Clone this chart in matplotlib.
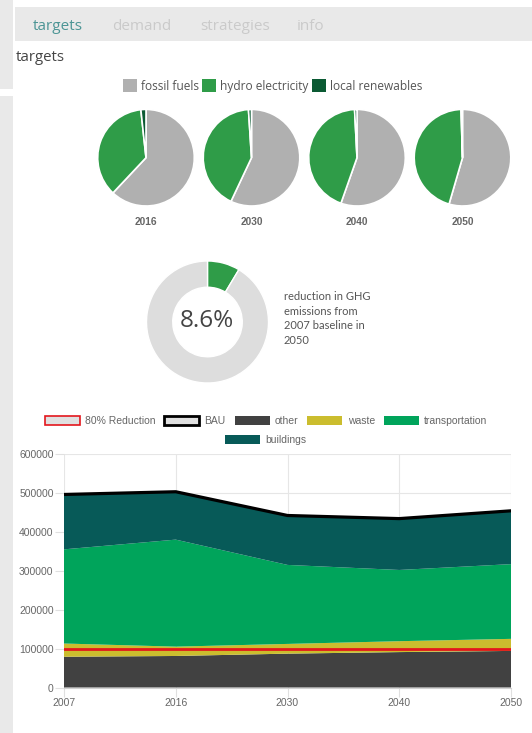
import matplotlib
matplotlib.use("Agg")
import matplotlib.pyplot as plt
from matplotlib.patches import Rectangle, Patch
import numpy as np

# ---------------- data ----------------
tabs = ["targets", "demand", "strategies", "info"]

pie_years = ["2016", "2030", "2040", "2050"]
pie_labels = ["fossil fuels", "hydro electricity", "local renewables"]
fossil = [62.0, 57.0, 55.4, 54.5]
hydro = [36.3, 42.0, 43.8, 45.0]
local = [1.7, 1.0, 0.8, 0.5]

ghg_reduction = 8.6
ghg_text = "reduction in GHG\nemissions from\n2007 baseline in\n2050"

years = ["2007", "2016", "2030", "2040", "2050"]
other = [79000, 81000, 87000, 91000, 94000]
waste = [34000, 24000, 25000, 28000, 31000]
transportation = [242000, 275000, 203000, 183000, 192000]
buildings = [141000, 123000, 127000, 132000, 137000]
bau = [496000, 503000, 442000, 434000, 454000]
reduction80 = [99000, 99000, 99000, 99000, 99000]
y_ticks = [0, 100000, 200000, 300000, 400000, 500000, 600000]

# ---------------- styles ----------------
W, H = 532, 733
UI_FONT = ["Open Sans", "DejaVu Sans"]
TXT_FONT = ["Lato", "DejaVu Sans"]
CH_FONT = ["Liberation Sans", "DejaVu Sans"]
C_FOSSIL = "#b0b0b0"
C_HYDRO = "#2f9c48"
C_LOCAL = "#0b5a33"
C_OTHER = "#414141"
C_WASTE = "#cbbd2e"
C_TRANS = "#00a45b"
C_BUILD = "#075a58"
C_RED = "#e3161d"

fig = plt.figure(figsize=(W / 100, H / 100), dpi=100)
fig.patch.set_facecolor("white")


def fx(x):
    return x / W


def fy(y):
    return 1 - y / H


def add_ax_px(l, t, w, h):
    return fig.add_axes([l / W, 1 - (t + h) / H, w / W, h / H])


# page chrome
fig.add_artist(Rectangle((fx(0), fy(89)), fx(13), 89 / H, transform=fig.transFigure,
                         facecolor="#e9e9e9", edgecolor="none", zorder=0))
fig.add_artist(Rectangle((fx(0), fy(733)), fx(13), (733 - 96) / H, transform=fig.transFigure,
                         facecolor="#e9e9e9", edgecolor="none", zorder=0))
fig.add_artist(Rectangle((fx(15), fy(41)), fx(517), 34 / H, transform=fig.transFigure,
                         facecolor="#e9e9e9", edgecolor="none", zorder=0))

tab_x = [33, 112, 200, 297]
for i, (t, x) in enumerate(zip(tabs, tab_x)):
    fig.text(fx(x), fy(26.5), t, fontsize=11, family=UI_FONT, va="center", ha="left",
             color="#4c9595" if i == 0 else "#cacaca")
fig.text(fx(16), fy(57.5), "targets", fontsize=10.8, family=UI_FONT, va="center", ha="left",
         color="#444444")

# ---------------- pies ----------------
pie_cx = [146, 251.5, 357, 462.5]
pie_cy = 157.7
pie_r = 48.3
for i, yr in enumerate(pie_years):
    ax = add_ax_px(pie_cx[i] - 50, pie_cy - 50, 100, 100)
    ax.pie([fossil[i], hydro[i], local[i]], colors=[C_FOSSIL, C_HYDRO, C_LOCAL],
           startangle=90, counterclock=False, radius=pie_r / 50,
           wedgeprops=dict(edgecolor="white", linewidth=1.2))
    ax.set_xlim(-1, 1)
    ax.set_ylim(-1, 1)
    ax.set_aspect("equal")
    ax.axis("off")
    fig.text(fx(pie_cx[i]), fy(221.7), yr, fontsize=7.3, fontweight="bold",
             family=CH_FONT, color="#666666", ha="center", va="center")

pie_handles = [Patch(facecolor=c, edgecolor="none") for c in (C_FOSSIL, C_HYDRO, C_LOCAL)]
leg = fig.legend(pie_handles, pie_labels, ncol=3, loc="center",
                 bbox_to_anchor=(fx(272.5), fy(86)), frameon=False,
                 prop=dict(family=UI_FONT, size=8.6), handlelength=1.18, handleheight=1.26,
                 handletextpad=0.34, columnspacing=0.25, borderpad=0, borderaxespad=0)
for t in leg.get_texts():
    t.set_color("#555555")

# ---------------- donut ----------------
dR = 61
dcx, dcy = 207.5, 322
axd = add_ax_px(dcx - dR - 2, dcy - dR - 2, 2 * dR + 4, 2 * dR + 4)
axd.pie([ghg_reduction, 100 - ghg_reduction], colors=[C_HYDRO, "#dddddd"],
        startangle=90, counterclock=False, radius=dR / (dR + 2),
        wedgeprops=dict(width=0.43 * dR / (dR + 2), edgecolor="white", linewidth=1))
axd.set_xlim(-1, 1)
axd.set_ylim(-1, 1)
axd.set_aspect("equal")
axd.axis("off")
fig.text(fx(206.5), fy(321), f"{ghg_reduction}%", fontsize=17.5, family=UI_FONT,
         color="#444444", ha="center", va="center")
fig.text(fx(283.5), fy(318.5), ghg_text, fontsize=8.0, family=TXT_FONT, color="#555555",
         ha="left", va="center", linespacing=1.42)

# ---------------- stacked area ----------------
ax = add_ax_px(64, 454, 447, 233.5)
x = np.arange(len(years))
ax.stackplot(x, other, waste, transportation, buildings,
             colors=[C_OTHER, C_WASTE, C_TRANS, C_BUILD], linewidth=0, zorder=2)
ax.plot(x, bau, color="black", linewidth=2.3, zorder=4)
ax.plot(x, reduction80, color=C_RED, linewidth=2.0, zorder=3)
ax.set_xlim(0, len(years) - 1)
ax.set_ylim(0, 600000)
ax.set_xticks(x)
ax.set_xticklabels(years)
ax.set_yticks(y_ticks)
ax.set_yticklabels([str(v) for v in y_ticks])
ax.grid(True, color="#e6e6e6", linewidth=0.8, zorder=0)
ax.set_axisbelow(True)
for s in ax.spines.values():
    s.set_visible(False)
ax.spines["bottom"].set_visible(True)
ax.spines["bottom"].set_color("#d0d0d0")
ax.tick_params(axis="both", length=6.5, color="#e0e0e0", labelcolor="#666666",
               labelsize=7.5, pad=1)
for lab in ax.get_xticklabels() + ax.get_yticklabels():
    lab.set_family(CH_FONT)

leg_kw = dict(frameon=False, prop=dict(family=CH_FONT, size=7.5), handlelength=3.35,
              handleheight=0.97, handletextpad=0.5, columnspacing=0.87, borderpad=0,
              borderaxespad=0, loc="center")
h1 = [Patch(facecolor="#e0e0e0", edgecolor=C_RED, linewidth=1.2),
      Patch(facecolor="#e0e0e0", edgecolor="black", linewidth=2.0),
      Patch(facecolor=C_OTHER, edgecolor="none"),
      Patch(facecolor=C_WASTE, edgecolor="none"),
      Patch(facecolor=C_TRANS, edgecolor="none")]
l1 = fig.legend(h1, ["80% Reduction", "BAU", "other", "waste", "transportation"], ncol=5,
                bbox_to_anchor=(fx(266), fy(421)), **leg_kw)
l2 = fig.legend([Patch(facecolor=C_BUILD, edgecolor="none")], ["buildings"], ncol=1,
                bbox_to_anchor=(fx(266), fy(440)), **leg_kw)
for l in (l1, l2):
    for t in l.get_texts():
        t.set_color("#666666")

fig.savefig("out.png", dpi=100)
